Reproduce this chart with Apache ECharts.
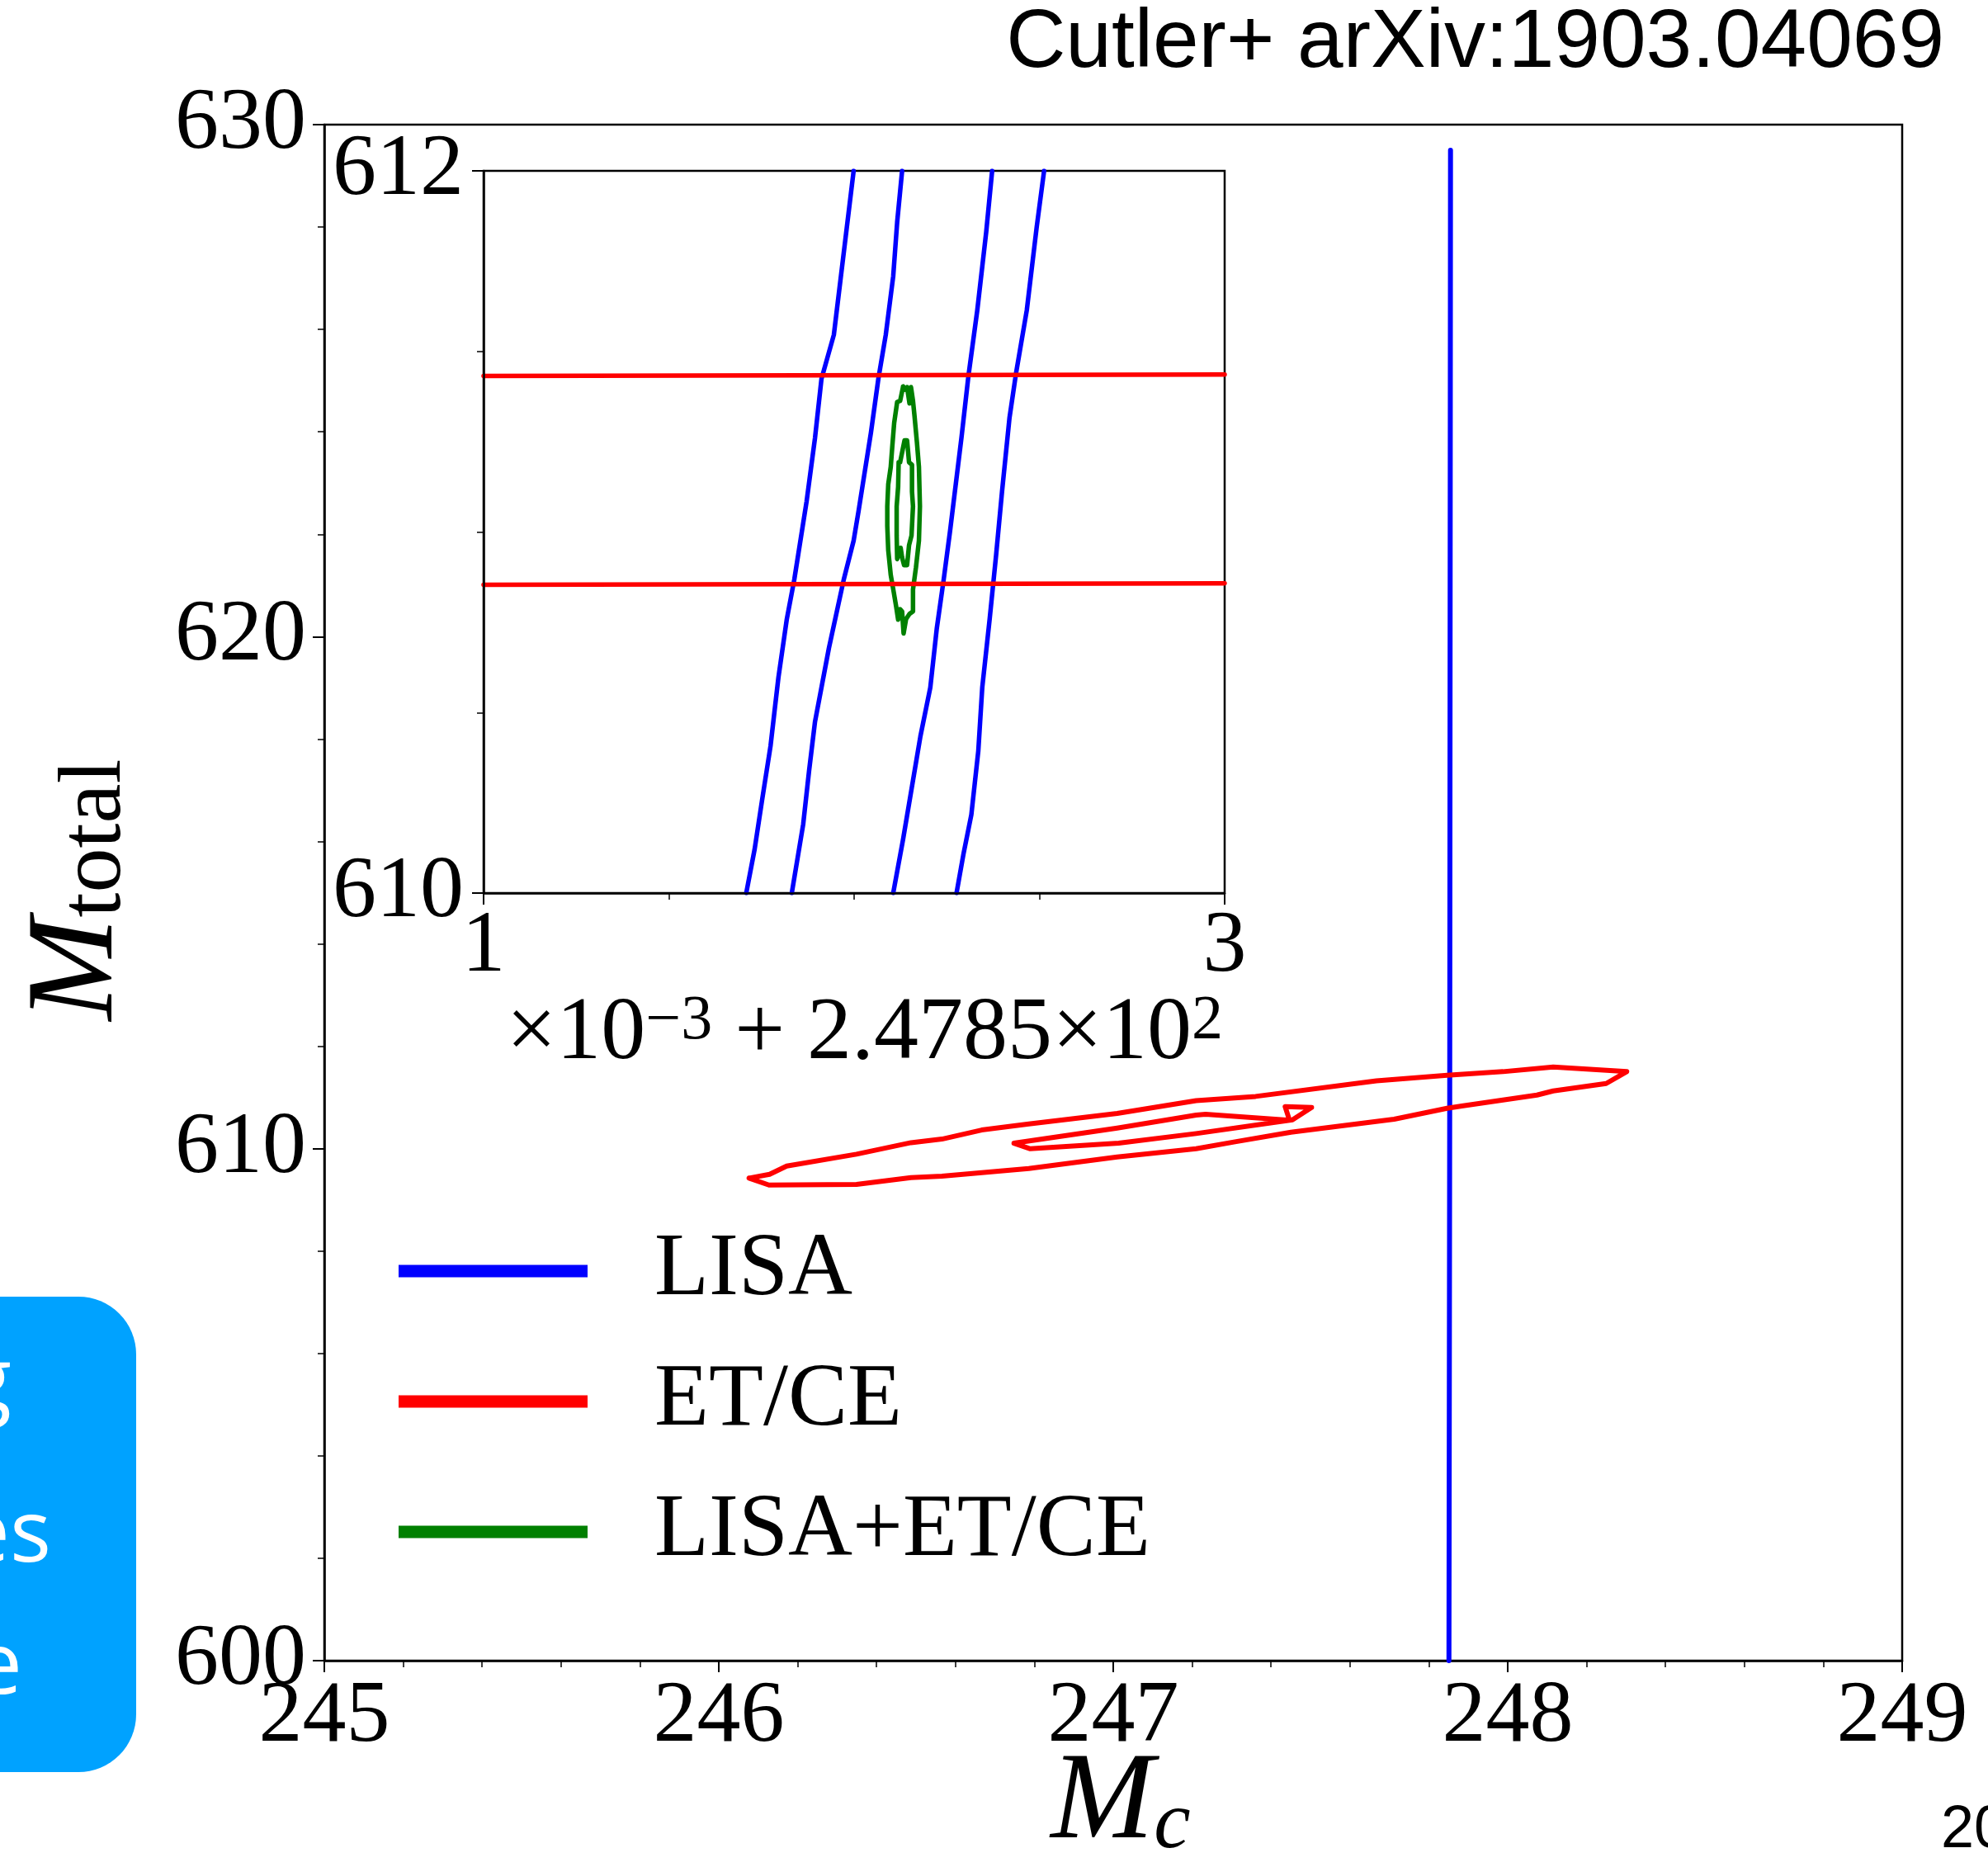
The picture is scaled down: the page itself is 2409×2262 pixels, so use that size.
<!DOCTYPE html>
<html><head><meta charset="utf-8">
<script src="https://cdn.jsdelivr.net/npm/echarts@6/dist/echarts.min.js"></script>
<style>html,body{margin:0;padding:0;background:#fff;}#chart{width:2409px;height:2262px;}</style>
</head><body><div id="chart"></div>
<script>
// ---------- axis ranges / tick labels ----------
const mainXRange = [245, 249];
const mainYRange = [600, 630];
const insetXRange = [1, 3];          // x1e-3 + 247.85
const insetYRange = [610, 612];
const insetOffsetText = '{n|×10}{p|−3}{n| + 2.4785×10}{p|2}';
const legendNames = ['LISA', 'ET/CE', 'LISA+ET/CE'];

// ---------- main panel data (M_c, M_total) ----------
const lisaMain = [[247.8510, 600], [247.8530, 611], [247.8550, 629.5]];
const etceOuter = [[246.0767,609.425],[246.1289,609.498],[246.1722,609.660],[246.3491,609.892],[246.4873,610.117],[246.5657,610.187],[246.6665,610.364],[246.7859,610.482],[247.0100,610.687],[247.2101,610.939],[247.3609,611.020],[247.6672,611.326],[247.8464,611.433],[247.9882,611.504],[248.1153,611.594],[248.3018,611.504],[248.2496,611.272],[248.1153,611.127],[248.0741,611.046],[247.8836,610.832],[247.8464,610.788],[247.7120,610.574],[247.4506,610.321],[247.3087,610.134],[247.2101,609.998],[247.0100,609.837],[246.7859,609.611],[246.5657,609.461],[246.4873,609.434],[246.3491,609.300],[246.1272,609.289],[246.0767,609.425]];
const etceInner = [[246.7484,610.106],[247.0100,610.401],[247.2101,610.655],[247.2341,610.671],[247.4469,610.553],[247.4358,610.820],[247.5029,610.804],[247.4543,610.563],[247.2101,610.295],[247.0138,610.106],[246.7897,609.998],[246.7484,610.106]];

// ---------- inset data (x in units of 1e-3 above 247.85) ----------
const lisaInsetA = [[1.9987,612],[1.9453,611.546],[1.9119,611.424],[1.8945,611.261],[1.8718,611.085],[1.8385,610.868],[1.8184,610.759],[1.7957,610.597],[1.7850,610.502],[1.7744,610.407],[1.7517,610.258],[1.7316,610.122],[1.7089,610]];
const lisaInsetB = [[2.1295,612],[2.1162,611.858],[2.1055,611.708],[2.0854,611.546],[2.0654,611.424],[2.0454,611.275],[2.0120,611.058],[1.9987,610.976],[1.9720,610.868],[1.9319,610.678],[1.8945,610.475],[1.8785,610.339],[1.8625,610.190],[1.8318,610]];
const lisaInsetC = [[2.3725,612],[2.3565,611.831],[2.3324,611.614],[2.3084,611.431],[2.2897,611.261],[2.2590,611.003],[2.2417,610.868],[2.2230,610.732],[2.2056,610.569],[2.1789,610.434],[2.1589,610.312],[2.1322,610.149],[2.1055,610]];
const lisaInsetD = [[2.5127,612],[2.4927,611.844],[2.4660,611.614],[2.4366,611.437],[2.4192,611.315],[2.3992,611.112],[2.3832,610.936],[2.3658,610.759],[2.3458,610.569],[2.3351,610.393],[2.3164,610.217],[2.2951,610.108],[2.2764,610]];
const etceInsetUpper = [[1, 611.432], [3, 611.436]];
const etceInsetLower = [[1, 610.854], [3, 610.858]];
const comboOuter = [[2.1322,611.403],[2.1242,611.363],[2.1162,611.360],[2.1081,611.302],[2.1028,611.234],[2.0988,611.180],[2.0921,611.132],[2.0895,611.071],[2.0895,611.017],[2.0921,610.949],[2.0988,610.881],[2.1068,610.834],[2.1135,610.793],[2.1188,610.757],[2.1242,610.786],[2.1295,610.780],[2.1335,610.719],[2.1402,610.759],[2.1495,610.773],[2.1589,610.780],[2.1589,610.841],[2.1669,610.902],[2.1749,610.976],[2.1776,611.071],[2.1749,611.180],[2.1696,611.247],[2.1629,611.322],[2.1589,611.363],[2.1535,611.401],[2.1495,611.356],[2.1429,611.401],[2.1362,611.394],[2.1322,611.403]];
const comboInner = [[2.1242,611.193],[2.1322,611.234],[2.1362,611.254],[2.1429,611.254],[2.1482,611.193],[2.1562,611.186],[2.1562,611.112],[2.1589,611.071],[2.1549,610.990],[2.1482,610.963],[2.1429,610.908],[2.1349,610.908],[2.1295,610.929],[2.1255,610.956],[2.1162,610.925],[2.1148,610.990],[2.1148,611.071],[2.1188,611.125],[2.1202,611.193],[2.1242,611.193]];

// ---------- styling ----------
const SERIF = '"Liberation Serif", "DejaVu Serif", serif';
const SANS = '"Liberation Sans", Arial, sans-serif';
const BLUE = '#0000ff', RED = '#ff0000', GREEN = '#008000';

function ser(name, data, color, idx, width) {
  return { name, type: 'line', xAxisIndex: idx, yAxisIndex: idx, data,
    symbol: 'none', showSymbol: false, smooth: false, clip: true, silent: true,
    lineStyle: { color, width, cap: 'round', join: 'round' }, itemStyle: { color },
    z: idx === 1 ? 12 : 3 };
}
function axisCommon(margin, major, minorSplit) {
  return {
    type: 'value', splitLine: { show: false },
    axisLine: { show: true, onZero: false, lineStyle: { color: '#000', width: 2.5 } },
    axisTick: { show: true, inside: false, length: 14, lineStyle: { color: '#000', width: 2 } },
    minorTick: { show: true, splitNumber: minorSplit, length: 8, lineStyle: { color: '#000', width: 1.5 } },
    axisLabel: { fontFamily: SERIF, fontSize: 106, color: '#000', margin, showMinLabel: true, showMaxLabel: true },
    interval: major
  };
}

const chart = echarts.init(document.getElementById('chart'), null, { renderer: 'canvas' });
const xNameRich = {
  m: { fontSize: 150, fontStyle: 'italic', fontFamily: SERIF, lineHeight: 150, padding: [0, 0, 14, 0], verticalAlign: 'top' },
  s: { fontSize: 100, fontStyle: 'italic', fontFamily: SERIF, lineHeight: 100, verticalAlign: 'bottom' }
};
const yNameRich = {
  m: { fontSize: 150, fontStyle: 'italic', fontFamily: SERIF, lineHeight: 150, padding: [0, 0, 14, 0], verticalAlign: 'top' },
  s: { fontSize: 108, fontFamily: SERIF, lineHeight: 108, verticalAlign: 'bottom' }
};
const option = {
  animation: false,
  backgroundColor: '#fff',
  grid: [
    { left: 393, top: 151, width: 1912, height: 1861, show: true, borderColor: '#000', borderWidth: 2.5, containLabel: false, outerBoundsMode: 'none' },
    { left: 586, top: 207, width: 898, height: 875, show: true, borderColor: '#000', borderWidth: 2.5, backgroundColor: '#fff', containLabel: false, outerBoundsMode: 'none', z: 5 }
  ],
  xAxis: [
    Object.assign(axisCommon(16, 1, 5), { gridIndex: 0, min: mainXRange[0], max: mainXRange[1] }),
    Object.assign(axisCommon(13, 2, 4), { gridIndex: 1, min: insetXRange[0], max: insetXRange[1], z: 14 })
  ],
  yAxis: [
    Object.assign(axisCommon(22, 10, 5), { gridIndex: 0, min: mainYRange[0], max: mainYRange[1] }),
    Object.assign(axisCommon(24, 2, 4), { gridIndex: 1, min: insetYRange[0], max: insetYRange[1], z: 14 })
  ],
  legend: {
    orient: 'vertical', left: 483, top: 1483, padding: 0, itemWidth: 229, itemHeight: 15, itemGap: 44,
    icon: 'rect', selectedMode: false, data: legendNames,
    textStyle: { fontFamily: SERIF, fontSize: 108, lineHeight: 114, color: '#000', padding: [0, 0, 0, 76] }
  },
  series: [
    ser('LISA', lisaMain, BLUE, 0, 6),
    ser('ET/CE', etceOuter, RED, 0, 6),
    ser('ET/CE', etceInner, RED, 0, 6),
    ser('LISA+ET/CE', comboOuter, GREEN, 1, 5.5),
    ser('LISA', lisaInsetA, BLUE, 1, 5.5),
    ser('LISA', lisaInsetB, BLUE, 1, 5.5),
    ser('LISA', lisaInsetC, BLUE, 1, 5.5),
    ser('LISA', lisaInsetD, BLUE, 1, 5.5),
    ser('ET/CE', etceInsetUpper, RED, 1, 5.5),
    ser('ET/CE', etceInsetLower, RED, 1, 5.5),
    ser('LISA+ET/CE', comboInner, GREEN, 1, 5.5)
  ],
  graphic: [
    { type: 'text', x: 2356, y: 53, z: 10, style: { text: 'Cutler+ arXiv:1903.04069', fontFamily: SANS, fontSize: 100, fill: '#000', align: 'right', verticalAlign: 'middle', textAlign: 'right', textVerticalAlign: 'middle' } },
    { type: 'text', x: 1358, y: 2112, z: 10, style: { text: '{m|M}{s|c}', fill: '#000', align: 'center', verticalAlign: 'top', textAlign: 'center', textVerticalAlign: 'top', rich: xNameRich } },
    { type: 'text', x: 96, y: 1078, rotation: Math.PI / 2, z: 10, style: { text: '{m|M}{s|total}', fill: '#000', align: 'center', verticalAlign: 'middle', textAlign: 'center', textVerticalAlign: 'middle', rich: yNameRich } },
    { type: 'text', x: 1482, y: 1200, z: 10, style: { text: insetOffsetText, fill: '#000', align: 'right', verticalAlign: 'top', textAlign: 'right', textVerticalAlign: 'top',
        rich: { n: { fontSize: 108, fontFamily: SERIF, lineHeight: 108, padding: [14, 0, 0, 0], verticalAlign: 'bottom' },
                p: { fontSize: 76, fontFamily: SERIF, lineHeight: 76, verticalAlign: 'top' } } } },
    { type: 'rect', z: 10, shape: { x: -120, y: 1571, width: 285, height: 576, r: 70 }, style: { fill: '#00a2ff' } },
    { type: 'text', x: 14, y: 1677, z: 11, style: { text: 'g', fontFamily: '"Open Sans", sans-serif', fontSize: 105, fill: '#fff', align: 'right', verticalAlign: 'middle', textAlign: 'right', textVerticalAlign: 'middle' } },
    { type: 'text', x: 62, y: 1862, z: 11, style: { text: 'es', fontFamily: '"Open Sans", sans-serif', fontSize: 105, fill: '#fff', align: 'right', verticalAlign: 'middle', textAlign: 'right', textVerticalAlign: 'middle' } },
    { type: 'text', x: 27, y: 2022, z: 11, style: { text: 'e', fontFamily: '"Open Sans", sans-serif', fontSize: 105, fill: '#fff', align: 'right', verticalAlign: 'middle', textAlign: 'right', textVerticalAlign: 'middle' } },
    { type: 'text', x: 2352, y: 2218, z: 10, style: { text: '20', fontFamily: SANS, fontSize: 72, fill: '#000', align: 'left', verticalAlign: 'middle', textAlign: 'left', textVerticalAlign: 'middle' } }
  ]
};
chart.setOption(option);
</script></body></html>
